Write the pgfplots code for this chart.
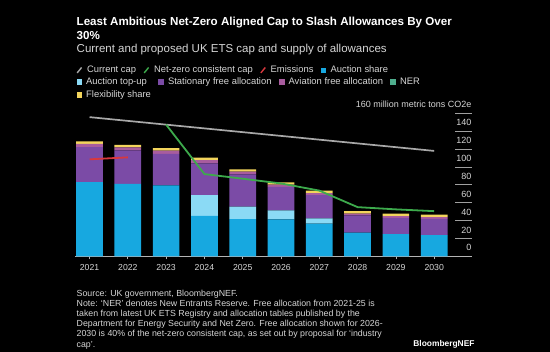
\documentclass[border=0pt]{standalone}
\usepackage{pgfplots}
\pgfplotsset{compat=1.18}
\usepackage{pgfplotstable}
\usepackage{fontspec}
\setmainfont{Liberation Sans}

\definecolor{cAuc}{HTML}{17A8E0}
\definecolor{cTop}{HTML}{8BDAF5}
\definecolor{cSta}{HTML}{7B4BA6}
\definecolor{cAvi}{HTML}{A85C9E}
\definecolor{cNer}{HTML}{4FAE8E}
\definecolor{cFlx}{HTML}{F2D45C}
\definecolor{cCap}{HTML}{A8A8A8}
\definecolor{cNz}{HTML}{3DAA4C}
\definecolor{cEm}{HTML}{D8383E}
\definecolor{cTxt}{HTML}{D6D6D6}
\definecolor{cAxis}{HTML}{B4B4B4}
\definecolor{cGrid}{HTML}{A0A0A0}

\pgfplotstableread{
x auction topup stationary aviation ner flex
0 83.1 0    39.1 3.7 0 2.7
1 80.9 0    37.7 3.4 0 2.6
2 79.4 0    35.3 3.4 0 3.0
3 45.1 23.2 35.8 3.4 0 2.9
4 41.7 13.8 36.2 2.9 0 2.7
5 41.4 10.1 26.1 2.5 0 2.7
6 36.5 6.0  26.0 2.3 0 2.6
7 26.4 0    19.3 2.0 0 2.7
8 24.9 0    18.2 1.9 0 2.6
9 23.8 0    18.2 1.9 0 2.6
}\supply

\pgfplotstableread{
x cap
0 155.7
1 151.5
2 147.3
3 143.1
4 138.9
5 134.7
6 130.5
7 126.3
8 122.1
9 117.9
}\currentcap

\pgfplotstableread{
x cap
2 147.3
3 92.0
4 86.8
5 81.5
6 73.5
7 55.0
8 52.5
9 50.5
}\netzero

\pgfplotstableread{
x em
0 108.5
1 110.7
}\emissions

\pgfplotsset{
  lgline/.style={legend image code/.code={\draw[#1,line width=1.4pt] (0.2pt,-2.7pt) -- (4.6pt,2.7pt);}},
  lgsq/.style={legend image code/.code={\fill[#1] (0pt,-2.3pt) rectangle (4.6pt,2.3pt);}},
  mylegend/.style={legend style={draw=none, fill=none, text=cTxt,
      font=\fontsize{9.4}{11}\selectfont, inner sep=0pt, outer sep=0pt,
      legend cell align=left,
      nodes={inner sep=0.9pt, text height=6.8pt, text depth=1.9pt},
      row sep=2.7pt,
      /tikz/every odd column/.append style={column sep=3.8pt},
      /tikz/every even column/.append style={column sep=6.5pt}}},
  geom/.style={at={(75pt,95.7pt)}, anchor=south west, scale only axis,
      width=396.7pt, height=143pt, xmin=-0.38, xmax=9.98, ymin=0, ymax=160},
}

\begin{document}
\begin{tikzpicture}[x=1pt,y=1pt]
\useasboundingbox (0,0) rectangle (550,352);
\fill[black] (0,0) rectangle (550,352);

\node[anchor=base west, inner sep=0, text=white, font=\bfseries\fontsize{11.6}{14}\selectfont] at (76.5,326.7) {Least Ambitious Net-Zero Aligned Cap to Slash Allowances By Over};
\node[anchor=base west, inner sep=0, text=white, font=\bfseries\fontsize{11.6}{14}\selectfont] at (76.5,312.7) {30\%};
\node[anchor=base west, inner sep=0, text=cTxt, font=\fontsize{11.5}{14}\selectfont] at (76.5,299) {Current and proposed UK ETS cap and supply of allowances};

\begin{axis}[geom,
  ybar stacked, bar width=26.7pt,
  axis x line*=bottom, axis y line*=right,
  x axis line style={draw=cAxis, line width=0.9pt, -},
  y axis line style={draw=none},
  tick align=inside,
  xtick={0,1,2,3,4,5,6,7,8,9},
  xticklabels={2021,2022,2023,2024,2025,2026,2027,2028,2029,2030},
  ytick={0,20,40,60,80,100,120,140,160},
  yticklabels={0,20,40,60,80,100,120,140,160 million metric tons CO2e},
  xtick style={draw=cAxis, line width=0.7pt, yshift=-3pt, /pgfplots/major tick length=3pt},
  ytick style={draw=cGrid, line width=0.8pt, /pgfplots/major tick length=16.5pt},
  xticklabel style={font=\fontsize{8.7}{10}\selectfont, text=cTxt, anchor=base, yshift=-14.5pt},
  yticklabel style={font=\fontsize{9}{10}\selectfont, text=cTxt, anchor=base east, inner sep=0pt, yshift=5.3pt},
  mylegend, legend columns=4,
  legend style={at={(0.0038,1.3014)}, anchor=west},
]
\addplot[fill=cAuc, draw=none, forget plot] table[x=x,y=auction] {\supply};
\addplot[fill=cTop, draw=none, forget plot] table[x=x,y=topup] {\supply};
\addplot[fill=cSta, draw=none, forget plot] table[x=x,y=stationary] {\supply};
\addplot[fill=cAvi, draw=none, forget plot] table[x=x,y=aviation] {\supply};
\addplot[fill=cNer, draw=none, forget plot] table[x=x,y=ner] {\supply};
\addplot[fill=cFlx, draw=none, forget plot] table[x=x,y=flex] {\supply};
\addlegendimage{lgline=cCap}
\addlegendentry{Current cap}
\addlegendimage{lgline=cNz}
\addlegendentry{Net-zero consistent cap}
\addlegendimage{lgline=cEm}
\addlegendentry{Emissions}
\addlegendimage{lgsq=cAuc}
\addlegendentry{Auction share}
\end{axis}

\begin{axis}[geom, axis lines=none, ticks=none,
  mylegend, legend columns=4,
  legend style={at={(0.0038,1.1755)}, anchor=west},
]
\addplot[cCap, line width=1.7pt, forget plot] table[x=x,y=cap] {\currentcap};
\addplot[cNz, line width=1.8pt, forget plot] table[x=x,y=cap] {\netzero};
\addplot[cEm, line width=1.8pt, forget plot] table[x=x,y=em] {\emissions};
\addlegendimage{lgsq=cTop}
\addlegendentry{Auction top-up}
\addlegendimage{lgsq=cSta}
\addlegendentry{Stationary free allocation}
\addlegendimage{lgsq=cAvi}
\addlegendentry{Aviation free allocation}
\addlegendimage{lgsq=cNer}
\addlegendentry{NER}
\addlegendimage{lgsq=cFlx}
\addlegendentry{Flexibility share}
\end{axis}

\begin{scope}[every node/.style={anchor=base west, inner sep=0, text=cTxt, font=\fontsize{8.8}{10}\selectfont}]
\node at (76.5,55.9) {Source: UK government, BloombergNEF.};
\node at (76.5,45.7) {Note: ‘NER’ denotes New Entrants Reserve. Free allocation from 2021-25 is};
\node at (76.5,35.5) {taken from latest UK ETS Registry and allocation tables published by the};
\node at (76.5,25.3) {Department for Energy Security and Net Zero. Free allocation shown for 2026-};
\node at (76.5,15.1) {2030 is 40\% of the net-zero consistent cap, as set out by proposal for ‘industry};
\node at (76.5,4.9) {cap’.};
\end{scope}
\node[anchor=base west, inner sep=0, text=white, font=\bfseries\fontsize{8.4}{10}\selectfont] at (413.2,5.5) {BloombergNEF};
\end{tikzpicture}
\end{document}
